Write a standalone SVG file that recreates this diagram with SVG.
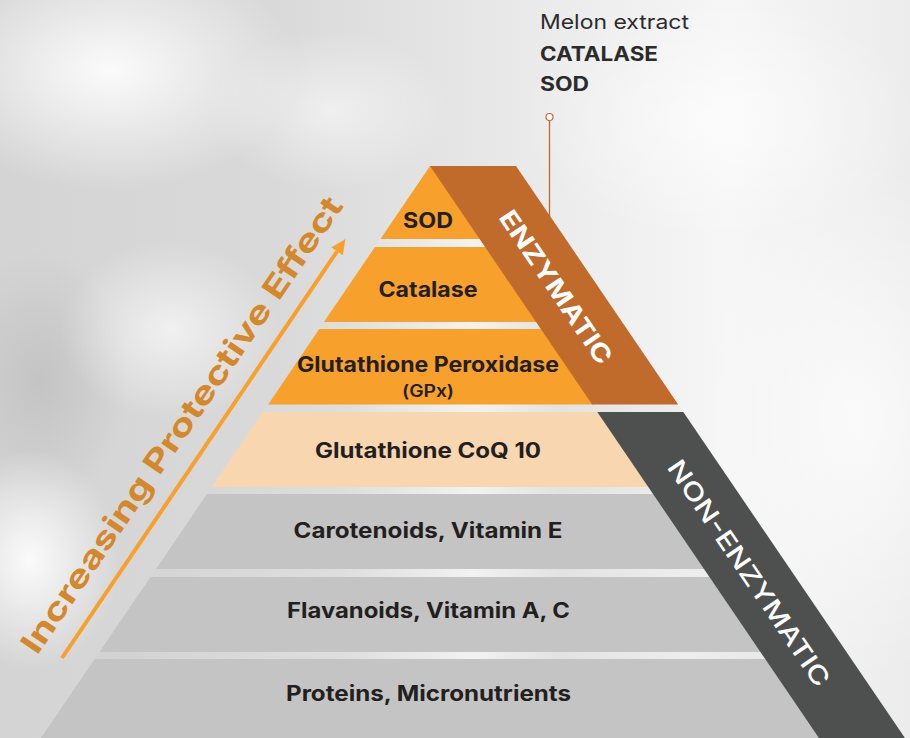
<svg xmlns="http://www.w3.org/2000/svg" width="910" height="738" viewBox="0 0 910 738">
<defs>
<linearGradient id="bg" x1="0" y1="0" x2="1" y2="0">
<stop offset="0" stop-color="#d4d4d4"/>
<stop offset="0.3" stop-color="#d9d9d9"/>
<stop offset="0.55" stop-color="#e8e8e8"/>
<stop offset="0.8" stop-color="#f6f6f6"/>
<stop offset="1" stop-color="#ececec"/>
</linearGradient>
<radialGradient id="glow" cx="0.5" cy="0.5" r="0.5">
<stop offset="0" stop-color="#ffffff" stop-opacity="0.9"/>
<stop offset="1" stop-color="#ffffff" stop-opacity="0"/>
</radialGradient>
<radialGradient id="shade" cx="0.5" cy="0.5" r="0.5">
<stop offset="0" stop-color="#b8b8b8" stop-opacity="0.6"/>
<stop offset="1" stop-color="#b8b8b8" stop-opacity="0"/>
</radialGradient>
<linearGradient id="gap" x1="0" y1="0" x2="1" y2="0">
<stop offset="0" stop-color="#cfcfcf"/>
<stop offset="0.35" stop-color="#dedede"/>
<stop offset="0.5" stop-color="#f2f2f2"/>
<stop offset="0.6" stop-color="#e2e2e2"/>
<stop offset="0.75" stop-color="#eeeeee"/>
<stop offset="1" stop-color="#dddddd"/>
</linearGradient>
<marker id="ah" viewBox="0 0 15 14" markerWidth="15" markerHeight="14" refX="0" refY="7" orient="auto" markerUnits="userSpaceOnUse">
<path d="M0,0 L15,7 L0,14 z" fill="#f7a02b"/>
</marker>
<style>
.lbl{font-family:Inter,"DejaVu Sans",sans-serif;font-weight:700;font-size:21px;fill:#231f20;text-anchor:middle}
.orange{fill:#f7a02b}
.peach{fill:#f8d6af}
.gray{fill:#c4c4c4}
.band{font-family:Inter,"DejaVu Sans",sans-serif;fill:#ffffff;text-anchor:middle;font-size:25px}
.call{font-family:Inter,"DejaVu Sans",sans-serif;fill:#2b2b2b;font-size:19.5px}
</style>
</defs>

<!-- background -->
<rect x="0" y="0" width="910" height="738" fill="url(#bg)"/>
<ellipse cx="110" cy="70" rx="190" ry="120" fill="url(#glow)"/>
<ellipse cx="40" cy="380" rx="90" ry="130" fill="url(#shade)"/>
<ellipse cx="30" cy="560" rx="90" ry="110" fill="url(#glow)"/>
<ellipse cx="170" cy="330" rx="110" ry="90" fill="url(#glow)" opacity="0.7"/>
<ellipse cx="330" cy="110" rx="120" ry="80" fill="url(#glow)" opacity="0.6"/>
<ellipse cx="860" cy="420" rx="160" ry="260" fill="url(#glow)" opacity="0.8"/>
<ellipse cx="720" cy="120" rx="200" ry="120" fill="url(#glow)" opacity="0.7"/>

<!-- pyramid underlay (gaps) -->
<polygon points="430,166 516,166 905,738 41,738" fill="url(#gap)"/>

<g id="layer-sod">
<polygon class="orange" points="430,166 432,166 482,239 380.4,239"/>
<text class="lbl" x="428" y="228" textLength="50" lengthAdjust="spacingAndGlyphs">SOD</text>
</g>
<g id="layer-catalase">
<polygon class="orange" points="374.9,247 487.1,247 538.1,322 323.9,322"/>
<text class="lbl" x="428" y="297" textLength="99" lengthAdjust="spacingAndGlyphs">Catalase</text>
</g>
<g id="layer-gpx">
<polygon class="orange" points="319.2,329 542.8,329 593.8,404.5 268.2,404.5"/>
<text class="lbl" x="428" y="372" textLength="262" lengthAdjust="spacingAndGlyphs">Glutathione Peroxidase</text>
<text class="lbl" x="428" y="397" style="font-size:17px;font-weight:600" textLength="52" lengthAdjust="spacingAndGlyphs">(GPx)</text>
</g>
<g id="layer-coq10">
<polygon class="peach" points="262.7,412 599.3,412 650.3,487 211.7,487"/>
<text class="lbl" x="428" y="458" textLength="226" lengthAdjust="spacingAndGlyphs">Glutathione CoQ 10</text>
</g>
<g id="layer-carotenoids">
<polygon class="gray" points="207,494 655,494 706,569 156,569"/>
<text class="lbl" x="428" y="538" textLength="269" lengthAdjust="spacingAndGlyphs">Carotenoids, Vitamin E</text>
</g>
<g id="layer-flavanoids">
<polygon class="gray" points="150.5,577 711.5,577 762.5,652 99.5,652"/>
<text class="lbl" x="428.5" y="618" textLength="283" lengthAdjust="spacingAndGlyphs">Flavanoids, Vitamin A, C</text>
</g>
<g id="layer-proteins">
<polygon class="gray" points="94.8,659 767.2,659 822,740 39.5,740"/>
<text class="lbl" x="428.5" y="701" textLength="285" lengthAdjust="spacingAndGlyphs">Proteins, Micronutrients</text>
</g>

<g id="band-enzymatic">
<polygon points="430,166 516,166 678.2,404.5 592.2,404.5" fill="#c06a2b"/>
<text class="band" transform="translate(556,287) rotate(55.8)" y="9" style="font-weight:700" textLength="180" lengthAdjust="spacingAndGlyphs">ENZYMATIC</text>
</g>
<g id="band-nonenzymatic">
<polygon points="597.3,412 683.3,412 906.3,740 820.3,740" fill="#4e504f"/>
<text class="band" transform="translate(749,573) rotate(55.8)" y="9" style="font-weight:500" textLength="268" lengthAdjust="spacingAndGlyphs">NON-ENZYMATIC</text>
</g>

<g id="callout">
<text class="call" x="540" y="29" textLength="149" lengthAdjust="spacingAndGlyphs">Melon extract</text>
<text class="call" x="540" y="61" style="font-weight:700" textLength="118" lengthAdjust="spacingAndGlyphs">CATALASE</text>
<text class="call" x="540" y="91" style="font-weight:700" textLength="49" lengthAdjust="spacingAndGlyphs">SOD</text>
</g>

<g id="connectors">
<line x1="549.5" y1="120.5" x2="549.5" y2="217" stroke="#c0692a" stroke-width="1.3"/>
<circle cx="549.5" cy="117" r="3.5" fill="#ffffff" stroke="#c0692a" stroke-width="1.2"/>
<line x1="62" y1="658" x2="337" y2="251.5" stroke="#f7a02b" stroke-width="4" marker-end="url(#ah)"/>
</g>

<g id="axis-label">
<text transform="translate(37,656) rotate(-55.7)" x="0" y="0" style="font-family:Inter,'DejaVu Sans',sans-serif;font-weight:700;font-size:31px;fill:#d4872b" textLength="545" lengthAdjust="spacingAndGlyphs">Increasing Protective Effect</text>
</g>
</svg>
